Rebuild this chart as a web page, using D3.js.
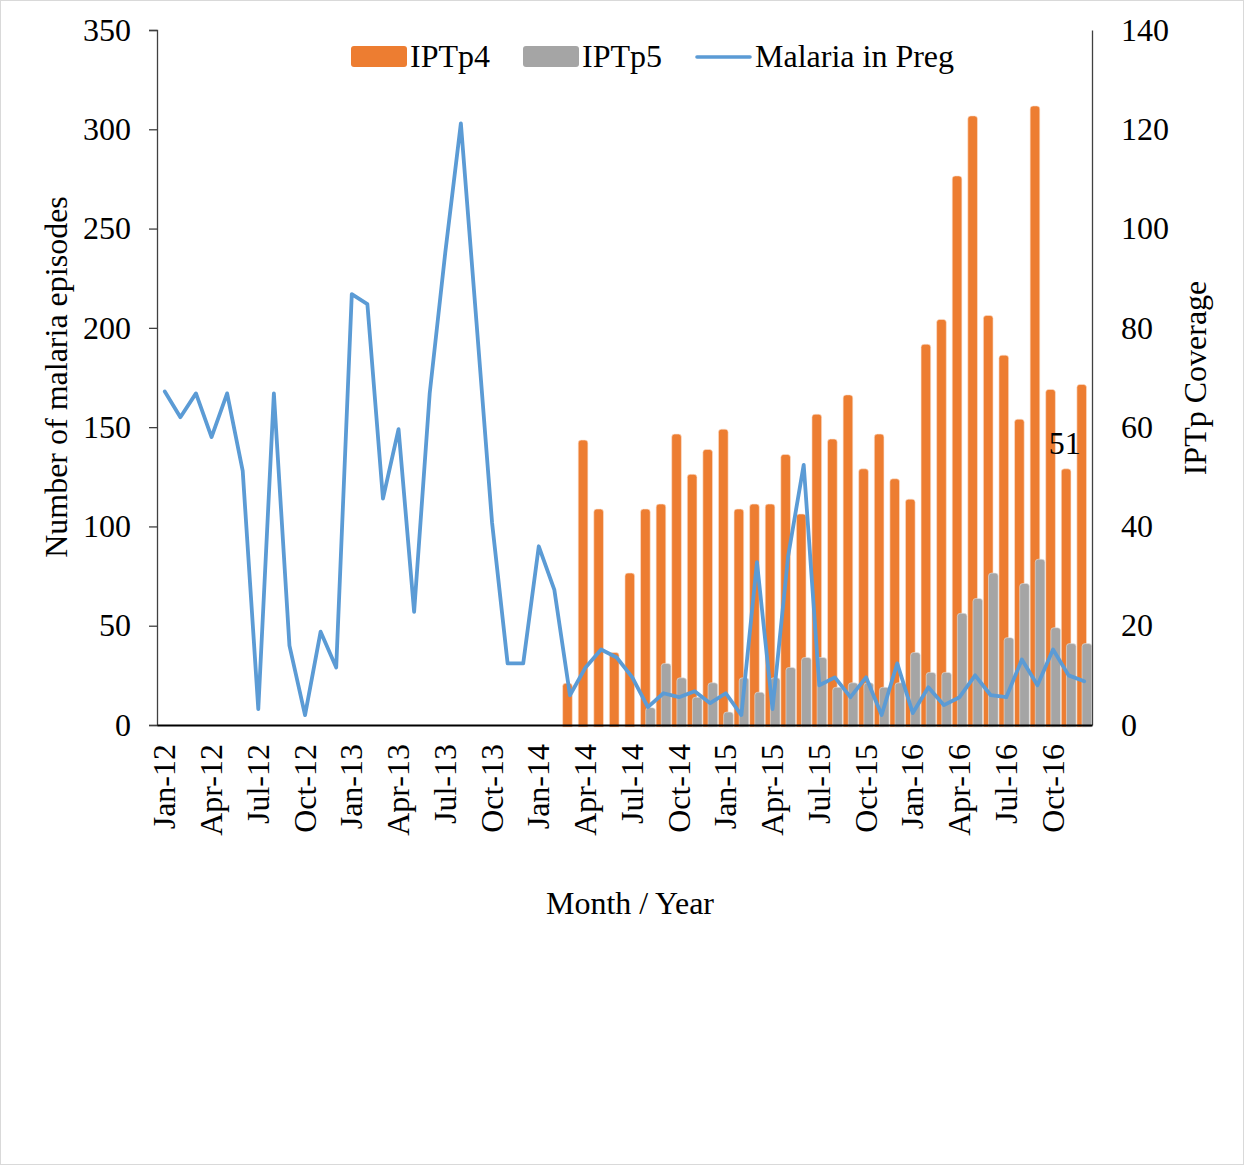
<!DOCTYPE html>
<html>
<head>
<meta charset="utf-8">
<script src="https://cdn.jsdelivr.net/npm/d3@7"></script>
<style>
  html, body { margin: 0; padding: 0; background: #fff; }
  svg { display: block; }
  text { font-family: "Liberation Serif", "Times New Roman", serif; fill: #000; }
</style>
</head>
<body>
<svg id="chart" width="1244" height="1165"></svg>
<script>
// ---------------- DATA ----------------
const months = [
  "Jan-12","Feb-12","Mar-12","Apr-12","May-12","Jun-12","Jul-12","Aug-12","Sep-12","Oct-12","Nov-12","Dec-12",
  "Jan-13","Feb-13","Mar-13","Apr-13","May-13","Jun-13","Jul-13","Aug-13","Sep-13","Oct-13","Nov-13","Dec-13",
  "Jan-14","Feb-14","Mar-14","Apr-14","May-14","Jun-14","Jul-14","Aug-14","Sep-14","Oct-14","Nov-14","Dec-14",
  "Jan-15","Feb-15","Mar-15","Apr-15","May-15","Jun-15","Jul-15","Aug-15","Sep-15","Oct-15","Nov-15","Dec-15",
  "Jan-16","Feb-16","Mar-16","Apr-16","May-16","Jun-16","Jul-16","Aug-16","Sep-16","Oct-16","Nov-16","Dec-16"
];
const xTickLabels = ["Jan-12","Apr-12","Jul-12","Oct-12","Jan-13","Apr-13","Jul-13","Oct-13","Jan-14","Apr-14","Jul-14","Oct-14",
  "Jan-15","Apr-15","Jul-15","Oct-15","Jan-16","Apr-16","Jul-16","Oct-16"];
const leftTicks = [0, 50, 100, 150, 200, 250, 300, 350];
const rightTicks = [0, 20, 40, 60, 80, 100, 120, 140];

// Malaria in pregnancy (left axis: number of malaria episodes)
const malariaInPreg = [
  168, 155, 167, 145, 167, 128, 8, 167, 40, 5, 47, 29,
  217, 212, 114, 149, 57, 167, 238, 303, 203, 102, 31, 31,
  90, 68, 15, 29, 38, 34, 24, 9, 16, 14, 17, 11,
  16, 5, 82, 8, 85, 131, 20, 24, 14, 24, 5, 31,
  6, 19, 10, 14, 25, 15, 14, 33, 20, 38, 25, 22
];
// IPTp4 coverage (right axis)
const iptp4 = [
  null, null, null, null, null, null, null, null, null, null, null, null,
  null, null, null, null, null, null, null, null, null, null, null, null,
  null, null, 8.4, 57.4, 43.5, 14.6, 30.6, 43.5, 44.5, 58.6, 50.5, 55.5,
  59.6, 43.5, 44.5, 44.5, 54.5, 42.5, 62.6, 57.6, 66.5, 51.6, 58.6, 49.6,
  45.5, 76.7, 81.7, 110.6, 122.7, 82.5, 74.5, 61.6, 124.7, 67.6, 51.6, 68.6
];
// IPTp5 coverage (right axis)
const iptp5 = [
  null, null, null, null, null, null, null, null, null, null, null, null,
  null, null, null, null, null, null, null, null, null, null, null, null,
  null, null, null, null, null, null, null, 3.5, 12.4, 9.5, 5.6, 8.5,
  2.6, 9.5, 6.6, 9.5, 11.6, 13.6, 13.6, 7.6, 8.5, 8.5, 7.6, 8.5,
  14.6, 10.6, 10.6, 22.5, 25.5, 30.6, 17.6, 28.5, 33.4, 19.6, 16.4, 16.4
];
const seriesNames = ["IPTp4", "IPTp5", "Malaria in Preg"];
const seriesColors = ["#ED7D31", "#A5A5A5", "#5B9BD5"];
const annotation = { month: "Nov-16", text: "51", value: 136.5 };
const titles = { left: "Number of malaria episodes", right: "IPTp Coverage", x: "Month / Year" };

// ---------------- LAYOUT ----------------
const svg = d3.select("#chart");
const W = 1244, H = 1165;
const m = { left: 157, right: 1092, top: 30, bottom: 725 };
const FS = 32;

svg.append("rect").attr("x", 0.5).attr("y", 0.5).attr("width", W - 1).attr("height", H - 1)
  .attr("fill", "#fff").attr("stroke", "#d9d9d9").attr("stroke-width", 1);

const x = d3.scaleBand().domain(months).range([m.left, m.right]).padding(0);
const yL = d3.scaleLinear().domain([0, 350]).range([m.bottom, m.top]);
const yR = d3.scaleLinear().domain([0, 140]).range([m.bottom, m.top]);
const bw = x.bandwidth();

// bars with rounded tops
function barPath(x0, w, yTop, yBase, r) {
  const h = yBase - yTop;
  r = Math.min(r, w / 2, h);
  return `M${x0},${yBase} L${x0},${yTop + r} Q${x0},${yTop} ${x0 + r},${yTop} L${x0 + w - r},${yTop} Q${x0 + w},${yTop} ${x0 + w},${yTop + r} L${x0 + w},${yBase} Z`;
}
const barW = bw * 0.62;
const base = yR(0) + 2;

const g4 = svg.append("g");
months.forEach((mo, i) => {
  const v = iptp4[i];
  if (v == null) return;
  g4.append("path")
    .attr("d", barPath(x(mo) + bw * 0.03, barW, yR(v), base, 3))
    .attr("fill", seriesColors[0]).attr("stroke", "#fbe2d2").attr("stroke-width", 0.6);
});
const g5 = svg.append("g");
months.forEach((mo, i) => {
  const v = iptp5[i];
  if (v == null) return;
  g5.append("path")
    .attr("d", barPath(x(mo) + bw * 0.36, barW, yR(v), base, 3))
    .attr("fill", seriesColors[1]).attr("stroke", "#e4e4e4").attr("stroke-width", 0.6);
});

// line
const line = d3.line().x((d, i) => x(months[i]) + bw / 2).y(d => yL(d));
svg.append("path").datum(malariaInPreg).attr("d", line)
  .attr("fill", "none").attr("stroke", seriesColors[2]).attr("stroke-width", 3.8)
  .attr("stroke-linejoin", "round").attr("stroke-linecap", "round");

// ---------------- AXES ----------------
const leftAxis = d3.axisLeft(yL).tickValues(leftTicks).tickSize(8).tickPadding(18).tickFormat(d3.format("d"));
const gL = svg.append("g").attr("transform", `translate(${m.left},0)`).call(leftAxis);
gL.select(".domain").attr("stroke", "#404040").attr("stroke-width", 1.3);
gL.selectAll(".tick line").attr("stroke", "#404040").attr("stroke-width", 1.3);
gL.selectAll(".tick text").attr("font-size", FS).attr("font-family", "Liberation Serif").attr("fill", "#000");

const rightAxis = d3.axisRight(yR).tickValues(rightTicks).tickSize(0).tickPadding(29).tickFormat(d3.format("d"));
const gR = svg.append("g").attr("transform", `translate(${m.right},0)`).call(rightAxis);
gR.select(".domain").attr("stroke", "#404040").attr("stroke-width", 1.3);
gR.selectAll(".tick text").attr("font-size", FS).attr("font-family", "Liberation Serif").attr("fill", "#000");

const bottomAxis = d3.axisBottom(x).tickValues(xTickLabels).tickSize(0).tickPadding(0);
const gB = svg.append("g").attr("transform", `translate(0,${m.bottom})`).call(bottomAxis);
gB.select(".domain").attr("stroke", "#000").attr("stroke-width", 2);
gB.selectAll(".tick text")
  .attr("font-size", FS).attr("font-family", "Liberation Serif").attr("fill", "#000")
  .attr("text-anchor", "end")
  .attr("transform", "rotate(-90)")
  .attr("x", -19).attr("y", 0).attr("dy", "0.33em");

// ---------------- TITLES ----------------
svg.append("text").attr("transform", `translate(67,377) rotate(-90)`)
  .attr("text-anchor", "middle").attr("font-size", FS).text(titles.left);
svg.append("text").attr("transform", `translate(1206,378) rotate(-90)`)
  .attr("text-anchor", "middle").attr("font-size", FS).text(titles.right);
svg.append("text").attr("x", 630).attr("y", 914)
  .attr("text-anchor", "middle").attr("font-size", FS).text(titles.x);

// annotation
svg.append("text").attr("x", x(annotation.month) + bw / 2 - 4).attr("y", yL(annotation.value))
  .attr("text-anchor", "middle").attr("font-size", FS).text(annotation.text);

// ---------------- LEGEND ----------------
const legendX = [351, 523, 697];
const lg = svg.append("g");
seriesNames.forEach((name, i) => {
  const gx = legendX[i];
  if (i < 2) {
    lg.append("rect").attr("x", gx).attr("y", 46).attr("width", 56).attr("height", 21).attr("rx", 3)
      .attr("fill", seriesColors[i]);
    lg.append("text").attr("x", gx + 59).attr("y", 67).attr("font-size", FS).text(name);
  } else {
    lg.append("line").attr("x1", gx).attr("x2", gx + 53).attr("y1", 57).attr("y2", 57)
      .attr("stroke", seriesColors[i]).attr("stroke-width", 3.6).attr("stroke-linecap", "round");
    lg.append("text").attr("x", gx + 58).attr("y", 67).attr("font-size", FS).text(name);
  }
});
</script>
</body>
</html>
